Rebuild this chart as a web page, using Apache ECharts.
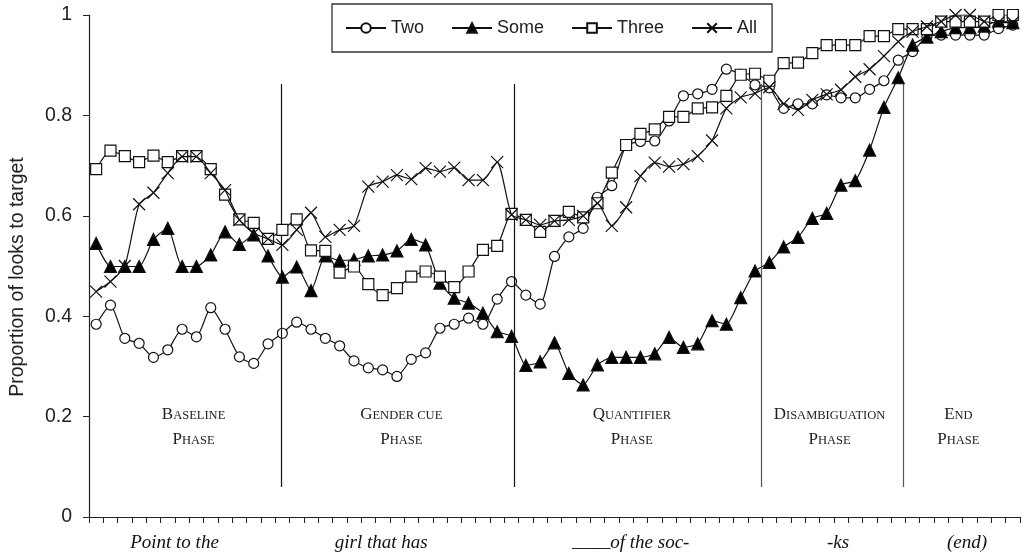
<!DOCTYPE html>
<html>
<head>
<meta charset="utf-8">
<script src="https://cdn.jsdelivr.net/npm/echarts@6/dist/echarts.min.js"></script>
<style>
  html, body { margin: 0; padding: 0; background: #fff; }
  #chart { width: 1024px; height: 556px; }
</style>
</head>
<body>
<div id="chart"></div>
<script>
// Proportion of looks to target, one value per time bin (65 bins)
const seriesNames = ['Two', 'Some', 'Three', 'All'];

const twoValues = [
  0.384, 0.422, 0.356, 0.346, 0.318, 0.333, 0.374, 0.359, 0.417, 0.374,
  0.319, 0.306, 0.345, 0.366, 0.388, 0.374, 0.356, 0.341, 0.311, 0.297,
  0.293, 0.280, 0.314, 0.327, 0.376, 0.384, 0.396, 0.384, 0.434, 0.469,
  0.442, 0.424, 0.519, 0.558, 0.575, 0.637, 0.660, 0.740, 0.748, 0.749,
  0.789, 0.839, 0.843, 0.852, 0.892, 0.882, 0.861, 0.855, 0.814, 0.823,
  0.823, 0.841, 0.835, 0.835, 0.852, 0.869, 0.910, 0.927, 0.957, 0.960,
  0.960, 0.960, 0.960, 0.973, 0.980
];

const someValues = [
  0.545, 0.499, 0.499, 0.499, 0.553, 0.575, 0.499, 0.499, 0.522, 0.568,
  0.543, 0.562, 0.520, 0.478, 0.498, 0.451, 0.520, 0.511, 0.513, 0.520,
  0.522, 0.530, 0.553, 0.542, 0.466, 0.436, 0.426, 0.406, 0.369, 0.360,
  0.302, 0.309, 0.347, 0.286, 0.263, 0.303, 0.318, 0.318, 0.318, 0.325,
  0.358, 0.338, 0.345, 0.391, 0.384, 0.437, 0.490, 0.507, 0.538, 0.557,
  0.595, 0.605, 0.661, 0.670, 0.731, 0.816, 0.875, 0.940, 0.956, 0.967,
  0.975, 0.975, 0.978, 0.988, 0.985
];

const threeValues = [
  0.693, 0.730, 0.719, 0.707, 0.720, 0.707, 0.719, 0.719, 0.693, 0.642,
  0.593, 0.586, 0.554, 0.572, 0.593, 0.531, 0.530, 0.487, 0.499, 0.464,
  0.442, 0.456, 0.479, 0.489, 0.479, 0.458, 0.489, 0.532, 0.540, 0.604,
  0.592, 0.568, 0.590, 0.608, 0.597, 0.625, 0.686, 0.741, 0.763, 0.772,
  0.797, 0.797, 0.814, 0.816, 0.839, 0.881, 0.883, 0.869, 0.904, 0.905,
  0.924, 0.940, 0.940, 0.940, 0.958, 0.958, 0.972, 0.972, 0.972, 0.987,
  0.987, 0.987, 0.987, 1.000, 1.000
];

const allValues = [
  0.449, 0.469, 0.500, 0.623, 0.646, 0.685, 0.718, 0.718, 0.685, 0.651,
  0.592, 0.565, 0.554, 0.542, 0.572, 0.606, 0.558, 0.572, 0.580, 0.658,
  0.668, 0.681, 0.673, 0.695, 0.688, 0.696, 0.671, 0.671, 0.707, 0.602,
  0.592, 0.582, 0.590, 0.592, 0.600, 0.625, 0.580, 0.617, 0.679, 0.706,
  0.698, 0.703, 0.719, 0.750, 0.814, 0.836, 0.844, 0.856, 0.823, 0.811,
  0.831, 0.842, 0.851, 0.877, 0.892, 0.918, 0.947, 0.967, 0.977, 0.987,
  1.000, 1.000, 0.987, 0.985, 0.985
];

// Spoken sentence aligned to the time axis (bin units)
const wordLabels = ['Point to the', 'girl that has', '____of the soc-', '-ks', '(end)'];
const wordPositions = [5.97, 20.4, 37.83, 52.3, 61.3];

// Phase boundaries and phase captions (small caps: initial + rest)
const phaseBoundaries = [13.45, 29.7, 46.9, 56.85];
const phaseBoundaryColors = ['#111', '#111', '#555', '#555'];
const phaseTitles = [['B', 'ASELINE'], ['G', 'ENDER CUE'], ['Q', 'UANTIFIER'], ['D', 'ISAMBIGUATION'], ['E', 'ND']];
const phaseCenters = [7.3, 21.8, 37.9, 51.7, 60.7];

const yTicks = { min: 0, max: 1, step: 0.2 };

const SANS = '"Liberation Sans", Arial, sans-serif';
const SERIF = '"Liberation Serif", "Times New Roman", serif';

const chart = echarts.init(document.getElementById('chart'), null, { renderer: 'canvas' });

const toPoints = vals => vals.map((v, i) => [i + 0.5, v]);

const crossPath = 'path://M0,0L10,10M10,0L0,10';
const symbolDefs = [
  { symbol: 'circle', size: 10, fill: '#fff' },
  { symbol: 'triangle', size: 12, fill: '#000' },
  { symbol: 'rect', size: 11, fill: '#fff' },
  { symbol: crossPath, size: 12, fill: 'none' }
];
const valueSets = [twoValues, someValues, threeValues, allValues];

const series = seriesNames.map((name, k) => ({
  name: name,
  type: 'line',
  data: toPoints(valueSets[k]),
  smooth: 0.2,
  symbol: symbolDefs[k].symbol,
  symbolSize: symbolDefs[k].size,
  showAllSymbol: true,
  lineStyle: { color: '#111', width: 1.2 },
  itemStyle: { color: symbolDefs[k].fill, borderColor: '#111', borderWidth: 1.2 },
  z: 3 + k
}));

// Vertical dividers between phases
series[0].markLine = {
  silent: true,
  symbol: 'none',
  animation: false,
  label: { show: false },
  data: phaseBoundaries.map((x, j) => [
    { coord: [x, 0.06], lineStyle: { color: phaseBoundaryColors[j], width: 1.2, type: 'solid' } },
    { coord: [x, 0.8625] }
  ])
};

chart.setOption({
  animation: false,
  backgroundColor: '#fff',
  grid: { left: 85, right: 4, top: 15, bottom: 39, containLabel: false },
  legend: {
    data: seriesNames,
    left: 332,
    top: 4,
    orient: 'horizontal',
    itemWidth: 40,
    itemHeight: 12,
    itemGap: 27,
    padding: [15, 15, 15, 13],
    borderColor: '#333',
    borderWidth: 1.3,
    textStyle: { fontSize: 18, fontFamily: SANS, color: '#222' }
  },
  xAxis: {
    type: 'value',
    min: 0,
    max: 65,
    interval: 1,
    axisLine: { show: true, lineStyle: { color: '#222', width: 1.2 } },
    axisTick: { show: true, length: 6, inside: false, lineStyle: { color: '#222', width: 1 } },
    splitLine: { show: false },
    axisLabel: {
      show: true,
      customValues: wordPositions,
      margin: 16,
      formatter: function (v) {
        let idx = 0, best = Infinity;
        wordPositions.forEach((p, j) => { const d = Math.abs(p - v); if (d < best) { best = d; idx = j; } });
        const text = wordLabels[idx];
        const m = text.match(/^(_+)(.*)$/);
        if (m) return '{u|' + m[1] + '}{w|' + m[2] + '}';
        return '{w|' + text + '}';
      },
      rich: {
        w: { fontSize: 19, fontStyle: 'italic', fontFamily: SERIF, color: '#111' },
        u: { fontSize: 19, fontFamily: SERIF, color: '#111' }
      }
    }
  },
  yAxis: {
    type: 'value',
    min: yTicks.min,
    max: yTicks.max,
    interval: yTicks.step,
    name: 'Proportion of looks to target',
    nameLocation: 'middle',
    nameGap: 61,
    nameTextStyle: { fontSize: 19.5, fontFamily: SANS, color: '#222', padding: [0, 22, 0, 0] },
    axisLine: { show: true, lineStyle: { color: '#222', width: 1.2 } },
    axisTick: { show: true, length: 6, inside: false, lineStyle: { color: '#222', width: 1 } },
    splitLine: { show: false },
    axisLabel: {
      margin: 17,
      fontSize: 19.5,
      fontFamily: SANS,
      color: '#222',
      formatter: v => String(Math.round(v * 10) / 10)
    }
  },
  series: series
});

// Phase captions placed through the grid's coordinate system
const capRich = {
  a: { fontSize: 17, lineHeight: 17, fontFamily: SERIF, fill: '#222', verticalAlign: 'bottom' },
  b: { fontSize: 12.5, lineHeight: 13, fontFamily: SERIF, fill: '#222', verticalAlign: 'bottom' }
};
const graphics = [];
phaseTitles.forEach((t, j) => {
  const p1 = chart.convertToPixel({ gridIndex: 0 }, [phaseCenters[j], 0.205]);
  const p2 = chart.convertToPixel({ gridIndex: 0 }, [phaseCenters[j], 0.155]);
  graphics.push({
    type: 'text', x: p1[0], y: p1[1], silent: true,
    style: { text: '{a|' + t[0] + '}{b|' + t[1] + '}', rich: capRich, align: 'center', verticalAlign: 'middle' }
  });
  graphics.push({
    type: 'text', x: p2[0], y: p2[1], silent: true,
    style: { text: '{a|P}{b|HASE}', rich: capRich, align: 'center', verticalAlign: 'middle' }
  });
});
chart.setOption({ graphic: graphics });
</script>
</body>
</html>
